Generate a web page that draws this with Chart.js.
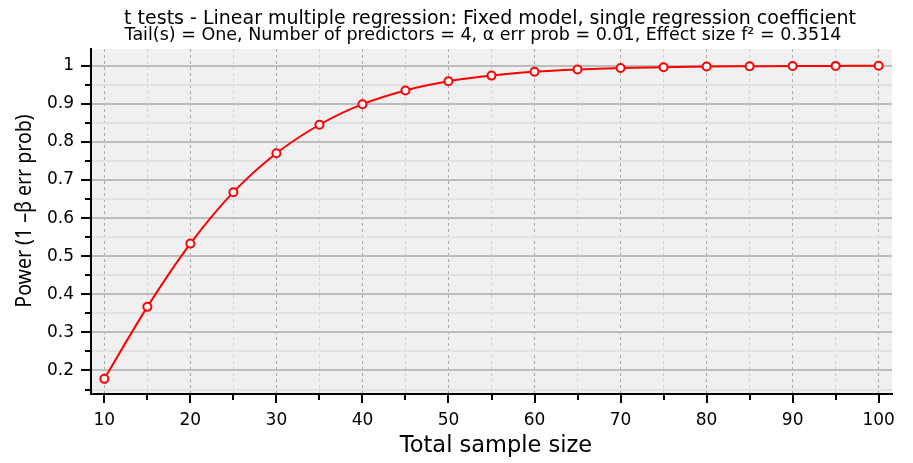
<!DOCTYPE html>
<html>
<head>
<meta charset="utf-8">
<script src="https://cdn.jsdelivr.net/npm/chart.js@4.4.1/dist/chart.umd.min.js"></script>
<style>
  html, body { margin: 0; padding: 0; background: #ffffff; }
  #wrap { width: 913px; height: 463px; }
</style>
</head>
<body>
<div id="wrap"><canvas id="c" width="913" height="463"></canvas></div>
<script>
// ---- data ----
const sampleSizes = [10, 15, 20, 25, 30, 35, 40, 45, 50, 55, 60, 65, 70, 75, 80, 85, 90, 95, 100];
const powerValues = [0.178, 0.367, 0.533, 0.668, 0.770, 0.845, 0.899, 0.935, 0.959, 0.974, 0.984, 0.990, 0.994, 0.996, 0.998, 0.9985, 0.9991, 0.9995, 0.9997];
const xMajorTicks = [10, 20, 30, 40, 50, 60, 70, 80, 90, 100];
const xMinorTicks = [15, 25, 35, 45, 55, 65, 75, 85, 95];
const yMajorTicks = [0.2, 0.3, 0.4, 0.5, 0.6, 0.7, 0.8, 0.9, 1];
const yMinorTicks = [0.15, 0.25, 0.35, 0.45, 0.55, 0.65, 0.75, 0.85, 0.95];
const titleText = 't tests - Linear multiple regression: Fixed model, single regression coefficient';
const subtitleText = 'Tail(s) = One, Number of predictors = 4, \u03b1 err prob = 0.01, Effect size f\u00b2 = 0.3514';
const xTitleText = 'Total sample size';
const yTitleText = 'Power (1 \u2013\u03b2 err prob)';

const isMajor = (v, arr) => arr.some(m => Math.abs(m - v) < 1e-9);
const fmtY = v => (Math.abs(v - 1) < 1e-9 ? '1' : v.toFixed(1));

const bgPlugin = {
  id: 'plotBg',
  beforeDraw(chart) {
    const {ctx, chartArea: a} = chart;
    ctx.save();
    ctx.fillStyle = '#f0f0f0';
    ctx.fillRect(a.left, a.top, a.right - a.left, a.bottom - a.top);
    ctx.restore();
  }
};

const decoPlugin = {
  id: 'deco',
  afterDraw(chart) {
    const {ctx, chartArea: a} = chart;
    const xs = chart.scales.x, ys = chart.scales.y;
    ctx.save();
    ctx.strokeStyle = '#000';
    ctx.lineWidth = 2;
    ctx.beginPath();
    xMajorTicks.forEach(v => { const p = Math.round(xs.getPixelForValue(v)); ctx.moveTo(p, a.bottom); ctx.lineTo(p, a.bottom + 9); });
    xMinorTicks.forEach(v => { const p = Math.round(xs.getPixelForValue(v)); ctx.moveTo(p, a.bottom); ctx.lineTo(p, a.bottom + 6); });
    yMajorTicks.forEach(v => { const p = Math.round(ys.getPixelForValue(v)); ctx.moveTo(a.left, p); ctx.lineTo(a.left - 10, p); });
    yMinorTicks.forEach(v => { const p = Math.round(ys.getPixelForValue(v)); ctx.moveTo(a.left, p); ctx.lineTo(a.left - 6, p); });
    ctx.stroke();

    ctx.fillStyle = '#000';
    ctx.textAlign = 'center';
    ctx.textBaseline = 'alphabetic';
    ctx.font = '19px "DejaVu Sans"';
    ctx.fillText(titleText, 490, 24);
    ctx.font = '17.5px "DejaVu Sans"';
    ctx.fillText(subtitleText, 483, 39.5);
    ctx.font = '22.5px "DejaVu Sans"';
    ctx.fillText(xTitleText, 496, 452);
    ctx.translate(31, 211);
    ctx.rotate(-Math.PI / 2);
    ctx.scale(0.93, 1);
    ctx.font = '21px "Noto Sans"';
    ctx.fillText(yTitleText, 0, 0);
    ctx.restore();
  }
};

new Chart(document.getElementById('c'), {
  type: 'line',
  data: {
    datasets: [{
      data: sampleSizes.map((n, i) => ({x: n, y: powerValues[i]})),
      borderColor: '#ff0000',
      borderWidth: 2,
      backgroundColor: '#ffffff',
      pointBackgroundColor: '#ffffff',
      pointBorderColor: '#ff0000',
      pointBorderWidth: 2,
      pointRadius: 4,
      cubicInterpolationMode: 'monotone',
      fill: false
    }]
  },
  options: {
    responsive: false,
    animation: false,
    events: [],
    layout: { padding: { top: 49, right: 21, left: 0, bottom: 0 } },
    plugins: { legend: { display: false }, title: { display: false }, tooltip: { enabled: false } },
    scales: {
      x: {
        type: 'linear',
        min: 8.45,
        max: 101.55,
        afterFit(s) { s.height = 69; },
        afterBuildTicks(s) { s.ticks = xMajorTicks.concat(xMinorTicks).sort((a, b) => a - b).map(v => ({value: v})); },
        ticks: {
          autoSkip: false,
          maxRotation: 0,
          padding: 16,
          color: '#000',
          font: { family: 'DejaVu Sans', size: 17 },
          callback: v => (isMajor(v, xMajorTicks) ? String(v) : '')
        },
        grid: {
          drawTicks: false,
          color: c => (isMajor(c.tick.value, xMajorTicks) ? '#a8a8a8' : '#d4d4d4'),
          lineWidth: 1
        },
        border: { display: true, color: '#000', width: 2, dash: [3, 3] }
      },
      y: {
        type: 'linear',
        min: 0.1383,
        max: 1.0438,
        afterFit(s) { s.width = 91; },
        afterBuildTicks(s) { s.ticks = yMajorTicks.concat(yMinorTicks).sort((a, b) => a - b).map(v => ({value: v})); },
        ticks: {
          autoSkip: false,
          padding: 17,
          color: '#000',
          font: { family: 'DejaVu Sans', size: 17 },
          callback: v => (isMajor(v, yMajorTicks) ? fmtY(v) : '')
        },
        grid: {
          drawTicks: false,
          color: c => (isMajor(c.tick.value, yMajorTicks) ? '#bcbcbc' : '#e2e2e2'),
          lineWidth: 2
        },
        border: { display: true, color: '#000', width: 2 }
      }
    }
  },
  plugins: [bgPlugin, decoPlugin]
});
</script>
</body>
</html>
